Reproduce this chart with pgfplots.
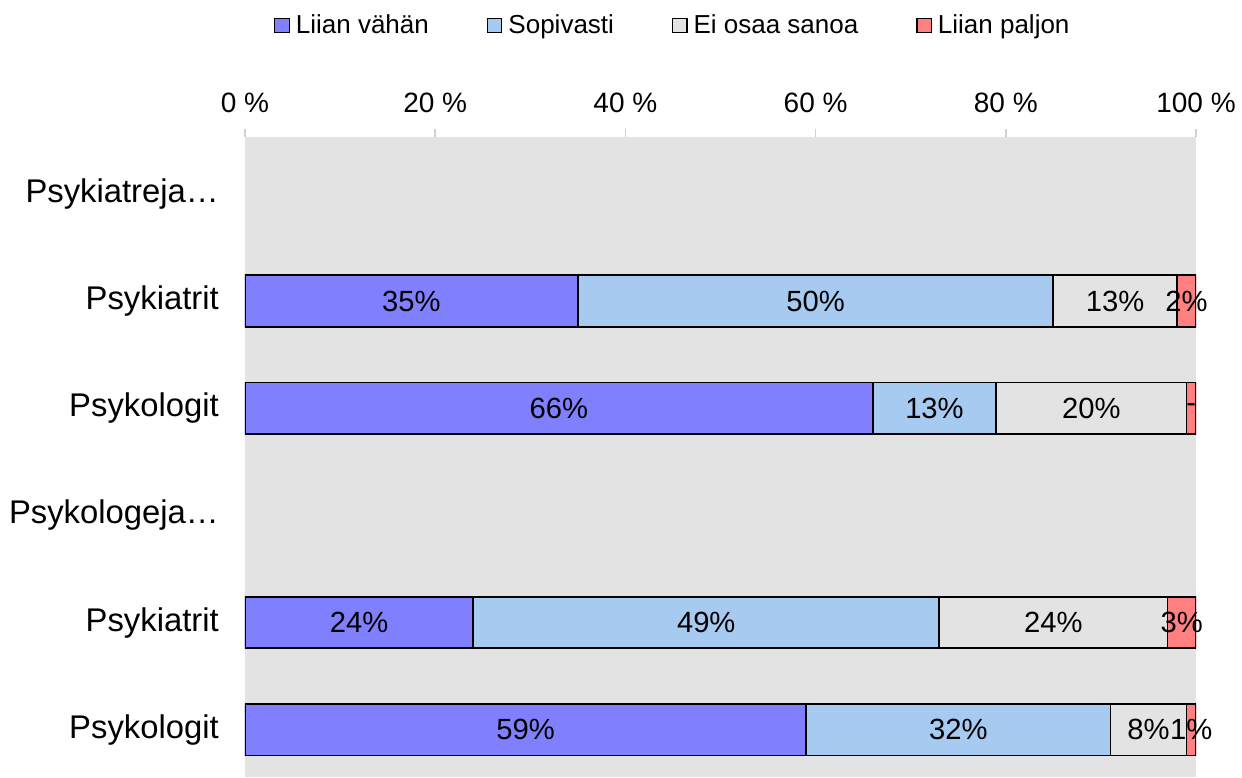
\documentclass[border=0pt]{standalone}
\usepackage{fontspec}
\setmainfont{Liberation Sans}
\usepackage{pgfplots}
\pgfplotsset{compat=1.18}

\definecolor{cVahan}{HTML}{8080FF}
\definecolor{cSopiv}{HTML}{A6CAF0}
\definecolor{cEos}{HTML}{E3E3E3}
\definecolor{cPaljon}{HTML}{FF8080}
\definecolor{bgGray}{HTML}{E3E3E3}

\pgfplotsset{
  common/.style={
    scale only axis,
    width=475.5pt, height=320pt,
    xmin=0, xmax=100,
    ymin=-0.53, ymax=5.44,
    y dir=reverse,
  },
}

\begin{document}
\begin{tikzpicture}
\begin{axis}[common,
    xbar stacked,
    bar width=0.48,
    axis background/.style={fill=bgGray},
    axis line style={draw=none},
    xtick={0,20,40,60,80,100},
    xticklabels={0 \%,20 \%,40 \%,60 \%,80 \%,100 \%},
    xtick pos=upper, xticklabel pos=upper,
    tick align=outside,
    major tick length=4pt,
    xtick style={color=black!18, line width=0.8pt},
    xticklabel style={font=\fontsize{14}{16}\selectfont, yshift=4.5pt},
    ytick={0,1,2,3,4,5},
    yticklabels={Psykiatreja…,Psykiatrit,Psykologit,Psykologeja…,Psykiatrit,Psykologit},
    ytick style={draw=none},
    yticklabel style={font=\fontsize{16.4}{18}\selectfont, xshift=-5.6pt},
    legend columns=4,
    legend style={draw=none, fill=none, at={(0.451,1.174)}, anchor=center,
      font=\fontsize{13}{15}\selectfont,
      /tikz/every even column/.append style={column sep=27pt},
      /tikz/every odd column/.append style={column sep=1pt}},
    legend image code/.code={\draw[#1, draw=black, line width=0.6pt] (0pt,-3.6pt) rectangle (7.2pt,3.6pt);},
    every axis plot/.append style={draw=black, line width=0.9pt},
  ]
  \addplot[fill=cVahan] coordinates {(35,1) (66,2) (24,4) (59,5)};
  \addplot[fill=cSopiv] coordinates {(50,1) (13,2) (49,4) (32,5)};
  \addplot[fill=cEos] coordinates {(13,1) (20,2) (24,4) (8,5)};
  \addplot[fill=cPaljon] coordinates {(2,1) (1,2) (3,4) (1,5)};
  \legend{Liian vähän, Sopivasti, Ei osaa sanoa, Liian paljon}
  \coordinate (BL) at (axis cs:0,5.44);
  \coordinate (TR) at (axis cs:100,-0.53);
\end{axis}
\begin{axis}[common, hide axis, clip=false]
  \addplot[only marks, mark=none, point meta=explicit symbolic,
    nodes near coords,
    every node near coord/.append style={anchor=center, font=\fontsize{14.6}{16}\selectfont}]
    coordinates {
      (17.5,1) [35\%] (60,1) [50\%] (91.5,1) [13\%] (99,1) [2\%]
      (33,2) [66\%] (72.5,2) [13\%] (89,2) [20\%] (99.5,2) [-]
      (12,4) [24\%] (48.5,4) [49\%] (85,4) [24\%] (98.5,4) [3\%]
      (29.5,5) [59\%] (75,5) [32\%] (95,5) [8\%] (99.5,5) [1\%]
    };
\end{axis}
\pgfresetboundingbox
\path[use as bounding box] ([xshift=-122.5pt]BL) rectangle ([xshift=23pt,yshift=68.5pt]TR);
\end{tikzpicture}
\end{document}
